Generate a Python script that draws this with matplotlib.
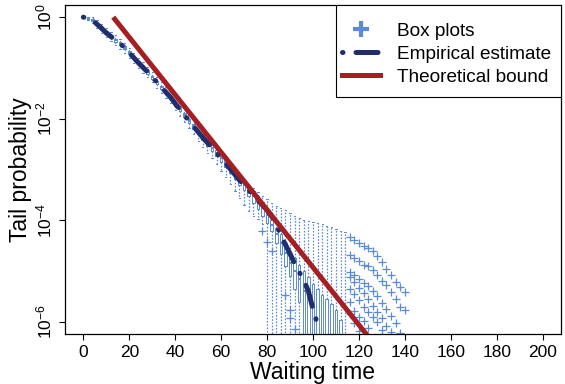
import numpy as np
import matplotlib.pyplot as plt
from matplotlib.lines import Line2D
from matplotlib.patches import Rectangle
from matplotlib.ticker import NullLocator

plt.rcParams['font.family'] = ['Liberation Sans', 'DejaVu Sans']
plt.rcParams['mathtext.fontset'] = 'custom'
plt.rcParams['mathtext.rm'] = 'Liberation Sans'
plt.rcParams['mathtext.it'] = 'Liberation Sans:italic'

blue = '#5b8bd4'
navy = '#1f2f6e'
red = '#a51e22'

# box plots: positions and log10 of the statistics (-9 = zero, below the axis)
box_x = list(range(0, 116, 2))
box_med = [0.00, -0.02, -0.06, -0.14, -0.22, -0.31, -0.38, -0.45, -0.52, -0.60,
           -0.70, -0.80, -0.90, -0.99, -1.08, -1.18, -1.28, -1.38, -1.48, -1.58,
           -1.70, -1.81, -1.93, -2.04, -2.15, -2.26, -2.37, -2.47, -2.57, -2.67,
           -2.78, -2.88, -2.99, -3.10, -3.21, -3.31, -3.42, -3.53, -3.64, -3.76,
           -3.90, -4.10, -4.28, -4.45, -4.65, -4.85, -5.00, -5.15, -5.40,
           -9, -9, -9, -9, -9, -9, -9, -9, -9]
box_q3 = [0.00, 0.00, -0.04, -0.11, -0.19, -0.28, -0.35, -0.42, -0.49, -0.57,
          -0.67, -0.77, -0.87, -0.96, -1.05, -1.15, -1.25, -1.35, -1.45, -1.55,
          -1.66, -1.77, -1.89, -2.00, -2.11, -2.22, -2.32, -2.42, -2.52, -2.62,
          -2.72, -2.82, -2.92, -3.03, -3.13, -3.23, -3.33, -3.43, -3.53, -3.64,
          -3.78, -4.00, -4.15, -4.28, -4.45, -4.62, -4.75, -4.88, -5.00, -5.12,
          -5.25, -5.36, -5.47, -5.55, -5.65, -5.76, -5.96, -9]
box_q1 = [0.00, -0.04, -0.08, -0.17, -0.25, -0.34, -0.41, -0.48, -0.55, -0.63,
          -0.73, -0.83, -0.93, -1.02, -1.11, -1.21, -1.31, -1.41, -1.51, -1.62,
          -1.74, -1.85, -1.97, -2.08, -2.20, -2.31, -2.42, -2.53, -2.63, -2.74,
          -2.85, -2.96, -3.07, -3.18, -3.30, -3.41, -3.53, -3.65, -3.77, -3.92,
          -4.06, -4.22, -4.45, -4.67, -4.90, -5.10, -5.35, -5.60,
          -9, -9, -9, -9, -9, -9, -9, -9, -9, -9]
box_hi = [0.00, 0.00, 0.00, -0.06, -0.14, -0.22, -0.29, -0.36, -0.43, -0.51,
          -0.60, -0.70, -0.80, -0.89, -0.98, -1.08, -1.18, -1.28, -1.38, -1.48,
          -1.59, -1.70, -1.81, -1.92, -2.03, -2.14, -2.24, -2.34, -2.50, -2.60,
          -2.70, -2.80, -2.91, -3.01, -3.11, -3.20, -3.29, -3.37, -3.45, -3.52,
          -3.58, -3.66, -3.72, -3.76, -3.80, -3.86, -3.92, -3.96, -3.99, -4.01,
          -4.03, -4.05, -4.08, -4.11, -4.14, -4.17, -4.21, -4.24]
box_lo = [0.00, -0.06, -0.12, -0.22, -0.31, -0.40, -0.47, -0.55, -0.62, -0.70,
          -0.80, -0.90, -1.00, -1.09, -1.18, -1.28, -1.39, -1.49, -1.59, -1.70,
          -1.83, -1.94, -2.07, -2.19, -2.31, -2.43, -2.55, -2.67, -2.78, -2.90,
          -3.02, -3.15, -3.28, -3.42, -3.56, -3.70, -3.82, -3.92, -3.98, -4.08,
          -9, -9, -9, -9, -9, -9, -9, -9, -9, -9, -9, -9, -9, -9, -9, -9, -9, -9]

# outliers inside the box range
out_x = [78, 80, 82, 88, 90, 90, 92]
out_log = [-4.22, -4.42, -4.61, -5.47, -5.76, -5.92, -6.14]

# outliers after the boxes end (all-zero boxes), one row per band of crosses
tail_x = list(range(116, 142, 2))
nan = np.nan
tail_rows = [
    [-4.32, -4.38, -4.45, -4.50, -4.55, -4.61, -4.70, -4.83, -4.95, -5.08, -5.21, -5.31, -5.42],
    [-4.68, -4.75, -4.81, -4.88, -4.91, -4.98, -5.08, -5.20, -5.28, -5.42, -5.55, -5.70, -5.77],
    [-5.02, -5.08, -5.15, -5.24, -5.30, -5.40, -5.50, -5.62, -5.75, -5.88, -6.03, -6.23, nan],
    [-5.12, -5.21, -5.33, -5.44, -5.56, -5.68, -5.80, -5.93, -6.08, -6.20, nan, nan, nan],
    [-5.35, -5.45, -5.58, -5.70, -5.80, -5.90, -6.00, -6.16, nan, nan, nan, nan, nan],
    [-5.60, -5.78, -5.90, -5.98, -6.12, nan, nan, nan, nan, nan, nan, nan, nan],
    [-5.85, -6.02, -6.18, nan, nan, nan, nan, nan, nan, nan, nan, nan, nan],
]

# empirical estimate (log10)
emp_x = list(range(0, 104, 2))
emp_log = [0.00, -0.02, -0.06, -0.14, -0.22, -0.31, -0.38, -0.45, -0.52, -0.60,
           -0.70, -0.80, -0.90, -0.99, -1.08, -1.18, -1.28, -1.38, -1.48, -1.58,
           -1.70, -1.81, -1.93, -2.04, -2.15, -2.26, -2.37, -2.47, -2.57, -2.67,
           -2.78, -2.88, -2.99, -3.10, -3.21, -3.31, -3.41, -3.51, -3.61, -3.70,
           -3.80, -3.92, -4.08, -4.30, -4.48, -4.66, -4.85, -5.02, -5.18, -5.40,
           -5.75, -6.05]

# theoretical bound (log10)
theo_x = [13, 126]
theo_log = [0.0, -6.40]

fig = plt.figure(figsize=(5.65, 3.84), dpi=100)
ax = fig.add_axes([0.1150, 0.1302, 0.8779, 0.8568])
ax.set_yscale('log')

stats = []
for i, p in enumerate(box_x):
    fl = [10 ** v for x, v in zip(out_x, out_log) if x == p]
    stats.append(dict(med=10 ** box_med[i], q1=10 ** box_q1[i], q3=10 ** box_q3[i],
                      whislo=10 ** box_lo[i], whishi=10 ** box_hi[i], fliers=fl))
for j, p in enumerate(tail_x):
    fl = [10 ** row[j] for row in tail_rows if not np.isnan(row[j])]
    stats.append(dict(med=1e-9, q1=1e-9, q3=1e-9, whislo=1e-9, whishi=1e-9, fliers=fl))
positions = box_x + tail_x

ax.bxp(stats, positions=positions, widths=1.1, capwidths=0.55, manage_ticks=False,
       boxprops=dict(color=blue, lw=0.7),
       medianprops=dict(color=blue, lw=1.4),
       whiskerprops=dict(color=blue, lw=0.9, linestyle=(0, (1.3, 1.3))),
       capprops=dict(color=blue, lw=0.7),
       flierprops=dict(marker='+', markeredgecolor=blue, markersize=6, mew=0.9))

emp_y = [10 ** v for v in emp_log]
ax.plot(emp_x, emp_y, color=navy, lw=3.6, dashes=(0.1, 2.6, 4.4, 2.6),
        dash_capstyle='round', zorder=4)
theo_y = [10 ** v for v in theo_log]
ax.plot(theo_x, theo_y, color=red, lw=3.6, solid_capstyle='butt', zorder=5)

ax.set_xlim(-8, 208)
ax.set_ylim(10 ** -6.24, 10 ** 0.24)
ax.set_xticks(range(0, 201, 20))
ax.set_yticks([1, 1e-2, 1e-4, 1e-6])
ax.set_yticklabels([r'$10^{0}$', r'$10^{-2}$', r'$10^{-4}$', r'$10^{-6}$'],
                   rotation=90, va='center')
ax.yaxis.set_minor_locator(NullLocator())
ax.tick_params(direction='out', length=4.3, width=0.8, labelsize=12.5, pad=3)
ax.tick_params(axis='x', pad=3.8)
for s in ax.spines.values():
    s.set_linewidth(0.9)

ax.set_xlabel('Waiting time', fontsize=16.5, labelpad=0.5)
ax.set_ylabel('Tail probability', fontsize=16.5, labelpad=2)

handles = [
    Line2D([], [], ls='none', marker='+', markersize=11, mew=3, color=blue),
    Line2D([], [], color=navy, lw=3.6, dashes=(0.1, 2.6, 4.4, 2.6), dash_capstyle='round'),
    Line2D([], [], color=red, lw=3.6),
]
leg = ax.legend(handles, ['Box plots', 'Empirical estimate', 'Theoretical bound'],
                loc='upper right', bbox_to_anchor=(1.0, 0.975), borderaxespad=0,
                frameon=False, fontsize=13.7, handlelength=2.0, handletextpad=0.9,
                labelspacing=0.3, borderpad=0.5)
# legend frame: taller than the entries need, drawn by hand
ax.add_patch(Rectangle((0.546, 0.72), 0.454, 0.28, transform=ax.transAxes,
                       facecolor='white', edgecolor='black', lw=0.8, zorder=6))
leg.set_zorder(7)

fig.savefig('out.png', dpi=100)
